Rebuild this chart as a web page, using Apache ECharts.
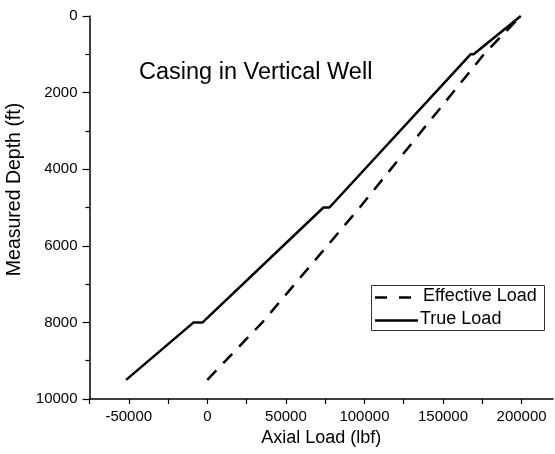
<!DOCTYPE html>
<html>
<head>
<meta charset="utf-8">
<script src="https://cdn.jsdelivr.net/npm/echarts@6/dist/echarts.min.js"></script>
<style>html,body{margin:0;padding:0;background:#fff}#c{width:555px;height:454px}</style>
</head>
<body>
<div id="c"></div>
<script>
// Data (axial load in lbf, measured depth in ft)
const trueLoadX     = [-51700, -8700, -3000, 73900, 77700, 167500, 169500, 199500];
const trueLoadDepth = [9500,    8000,  8000,  5000,  5000,   1000,   1000,      0];
const effLoadX      = [0,  35000, 97000, 176000, 199500];
const effLoadDepth  = [9500, 8000, 5000, 1000, 0];
const seriesNames = ['Effective Load', 'True Load'];
const chartTitle = 'Casing in Vertical Well';
const xLabelTicks = [-50000, 0, 50000, 100000, 150000, 200000];
const xTickValues = [-75000, -50000, -25000, 0, 25000, 50000, 75000, 100000, 125000, 150000, 175000, 200000];

const pairs = (xs, ys) => xs.map((x, i) => [x, ys[i]]);
const font = '"Liberation Sans", Arial, sans-serif';

const chart = echarts.init(document.getElementById('c'), null, {renderer: 'canvas'});
chart.setOption({
  animation: false,
  backgroundColor: '#fff',
  title: {
    text: chartTitle, left: 134, top: 56,
    textStyle: {fontFamily: font, fontSize: 23.5, fontWeight: 'normal', color: '#000'}
  },
  grid: {left: 89.5, right: 2, top: 16, bottom: 55, containLabel: false, outerBoundsMode: 'none'},
  xAxis: {
    type: 'value', min: -75000, max: 220000,
    name: 'Axial Load (lbf)', nameLocation: 'middle', nameGap: 30,
    nameTextStyle: {fontFamily: font, fontSize: 18, color: '#000'},
    axisLine: {show: true, onZero: false, lineStyle: {color: '#000', width: 1.5}},
    axisTick: {show: true, inside: false, length: 5, customValues: xTickValues,
               lineStyle: {color: '#000', width: 1.2}},
    axisLabel: {
      fontFamily: font, fontSize: 15, color: '#000', margin: 10,
      customValues: xLabelTicks, formatter: v => String(v)
    },
    splitLine: {show: false}
  },
  yAxis: {
    type: 'value', inverse: true, min: 0, max: 10000, interval: 2000,
    name: 'Measured Depth (ft)', nameLocation: 'middle', nameGap: 59,
    nameTextStyle: {fontFamily: font, fontSize: 19.5, color: '#000', padding: [0, 0, 0, 36]},
    axisLine: {show: true, onZero: false, lineStyle: {color: '#000', width: 1.5}},
    axisTick: {show: true, inside: false, length: 7, lineStyle: {color: '#000', width: 1.2}},
    minorTick: {show: true, splitNumber: 2, length: 4, lineStyle: {color: '#000', width: 1.2}},
    axisLabel: {fontFamily: font, fontSize: 15, color: '#000', margin: 12, formatter: v => String(v)},
    splitLine: {show: false}
  },
  graphic: [
    {type: 'rect', shape: {x: 371.5, y: 285.5, width: 173, height: 45},
     style: {fill: '#fff', stroke: '#333', lineWidth: 1}, z: 10},
    {type: 'line', shape: {x1: 375, y1: 297.5, x2: 412, y2: 297.5},
     style: {stroke: '#000', lineWidth: 2.5, lineDash: [12, 12]}, z: 11},
    {type: 'text', left: 423, top: 287,
     style: {text: seriesNames[0], font: '18px ' + font, fill: '#000'}, z: 11},
    {type: 'line', shape: {x1: 375, y1: 320.5, x2: 418, y2: 320.5},
     style: {stroke: '#000', lineWidth: 2.5}, z: 11},
    {type: 'text', left: 420, top: 310,
     style: {text: seriesNames[1], font: '18px ' + font, fill: '#000'}, z: 11}
  ],
  series: [
    {
      name: seriesNames[0], type: 'line', showSymbol: false, symbol: 'none',
      data: pairs(effLoadX, effLoadDepth),
      lineStyle: {color: '#000', width: 2.5, type: [13, 10]}
    },
    {
      name: seriesNames[1], type: 'line', showSymbol: false, symbol: 'none',
      data: pairs(trueLoadX, trueLoadDepth),
      lineStyle: {color: '#000', width: 2.5}
    }
  ]
});
</script>
</body>
</html>
